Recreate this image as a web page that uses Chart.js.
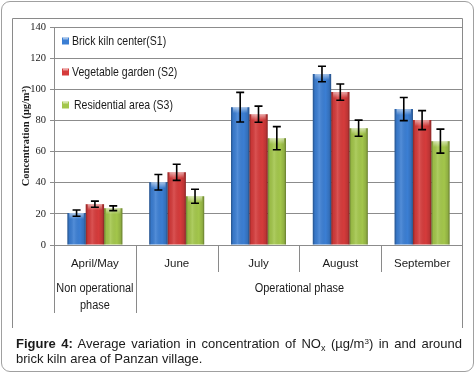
<!DOCTYPE html>
<html>
<head>
<meta charset="utf-8">
<script src="https://cdn.jsdelivr.net/npm/chart.js@4"></script>
<style>
  html, body { margin:0; padding:0; background:#fff; }
  #wrap { position:relative; width:476px; height:375px; overflow:hidden; }
  #frame { position:absolute; left:1px; top:1px; width:471px; height:369px; border:1.5px solid #a0a0a0; border-radius:9px; }
  canvas { position:absolute; left:0; top:0; }
  #cap { position:absolute; left:16px; top:336px; width:446px; font-family:'Liberation Sans', Arial, sans-serif; font-size:13px; line-height:15px; color:#1a1a1a; }
  #cap .l1 { text-align:justify; text-align-last:justify; white-space:nowrap; }
  #cap sub { font-size:9px; line-height:0; vertical-align:-3px; }
  #cap sup { font-size:8px; line-height:0; vertical-align:4px; }
</style>
</head>
<body>
<div id="wrap">
  <div id="frame"></div>
  <canvas id="c" width="476" height="375"></canvas>
  <div id="cap">
    <div class="l1"><b>Figure 4:</b> Average variation in concentration of NO<sub>x</sub> (µg/m<sup>3</sup>) in and around</div>
    <div>brick kiln area of Panzan village.</div>
  </div>
</div>
<script>
const categories = ['April/May', 'June', 'July', 'August', 'September'];
const seriesNames = ['Brick kiln center(S1)', 'Vegetable garden (S2)', 'Residential area (S3)'];
const s1Values = [20.5, 40.3, 88.5, 109.8, 87.3];
const s2Values = [26.2, 46.7, 84.0, 98.2, 80.2];
const s3Values = [23.6, 31.3, 68.6, 75.0, 66.7];
const s1Errors = [2.0, 5.0, 9.5, 5.0, 7.4];
const s2Errors = [2.0, 5.2, 5.2, 5.2, 6.1];
const s3Errors = [1.5, 4.5, 7.4, 5.2, 7.7];
const yTicks = [0, 20, 40, 60, 80, 100, 120, 140];
const groupLabels = [['Non operational', 'phase'], ['Operational phase']];
const groupStart = [0, 1];
const groupEnd = [0, 4];
const yTitle = 'Concentration (µg/m³)';

const colors = ['#3b7ed3', '#d53b3b', '#a3c64b'];
const errors = [s1Errors, s2Errors, s3Errors];

const serifFont = "'Liberation Serif', 'Times New Roman', serif";
const sansFont = "'Liberation Sans', Arial, sans-serif";

function drawNarrowText(ctx, text, x, y, sx) {
  ctx.save();
  ctx.translate(x, y);
  ctx.scale(sx, 1);
  ctx.fillText(text, 0, 0);
  ctx.restore();
}

const decorPlugin = {
  id: 'decor',
  beforeDraw(chart) {
    const ctx = chart.ctx;
    ctx.save();
    ctx.strokeStyle = '#8a8a8a';
    ctx.lineWidth = 1;
    ctx.beginPath();
    ctx.moveTo(12.5, 328); ctx.lineTo(12.5, 18.5); ctx.lineTo(462.5, 18.5); ctx.lineTo(462.5, 328);
    ctx.stroke();
    ctx.restore();
  },
  afterDatasetsDraw(chart) {
    const ctx = chart.ctx;
    const ys = chart.scales.y;
    chart.data.datasets.forEach((ds, di) => {
      const meta = chart.getDatasetMeta(di);
      meta.data.forEach((bar, i) => {
        const p = bar.getProps(['x', 'y', 'base', 'width'], true);
        const l = p.x - p.width / 2;
        ctx.save();
        const g = ctx.createLinearGradient(l, 0, l + p.width, 0);
        g.addColorStop(0, 'rgba(0,0,0,0.35)');
        g.addColorStop(0.12, 'rgba(0,0,0,0.05)');
        g.addColorStop(0.35, 'rgba(255,255,255,0.12)');
        g.addColorStop(0.7, 'rgba(0,0,0,0.0)');
        g.addColorStop(0.9, 'rgba(0,0,0,0.12)');
        g.addColorStop(1, 'rgba(0,0,0,0.38)');
        ctx.fillStyle = g;
        ctx.fillRect(l, p.y, p.width, p.base - p.y);
        const h = Math.min(6, p.base - p.y);
        const g2 = ctx.createLinearGradient(0, p.y, 0, p.y + h);
        g2.addColorStop(0, 'rgba(255,255,255,0.55)');
        g2.addColorStop(1, 'rgba(255,255,255,0)');
        ctx.fillStyle = g2;
        ctx.fillRect(l + 2, p.y, p.width - 4, h);
        ctx.restore();
        // error bar
        const v = ds.data[i], e = errors[di][i];
        const yt = ys.getPixelForValue(v + e), yb = ys.getPixelForValue(v - e);
        ctx.save();
        ctx.strokeStyle = '#000';
        ctx.lineWidth = 1.6;
        ctx.beginPath();
        ctx.moveTo(p.x, yt); ctx.lineTo(p.x, yb);
        ctx.moveTo(p.x - 4, yt); ctx.lineTo(p.x + 4, yt);
        ctx.moveTo(p.x - 4, yb); ctx.lineTo(p.x + 4, yb);
        ctx.stroke();
        ctx.restore();
      });
    });
  },
  afterDraw(chart) {
    const ctx = chart.ctx;
    const xs = chart.scales.x;
    const area = chart.chartArea;
    const half = (xs.getPixelForValue(1) - xs.getPixelForValue(0)) / 2;
    ctx.save();
    ctx.strokeStyle = '#8a8a8a';
    ctx.lineWidth = 1;
    for (let b = 0; b < categories.length; b++) {
      const x = Math.round(xs.getPixelForValue(b) - half) + 0.5;
      const isGroupEdge = groupStart.includes(b);
      ctx.beginPath();
      ctx.moveTo(x, area.bottom);
      ctx.lineTo(x, isGroupEdge ? 313 : 272);
      ctx.stroke();
    }
    // legend
    ctx.font = "13px " + sansFont;
    ctx.textBaseline = 'middle';
    ctx.textAlign = 'left';
    const legY = [41, 72, 105];
    chart.data.datasets.forEach((ds, di) => {
      const yy = legY[di];
      ctx.fillStyle = colors[di];
      ctx.fillRect(62, yy - 3.5, 7, 7);
      ctx.fillStyle = 'rgba(255,255,255,0.5)';
      ctx.fillRect(63, yy - 3.5, 5, 2);
      ctx.fillStyle = '#1a1a1a';
      drawNarrowText(ctx, ds.label, di === 2 ? 74 : 72, yy, 0.81);
    });
    // group labels
    ctx.font = "12px " + sansFont;
    ctx.textAlign = 'center';
    groupLabels.forEach((lines, gi) => {
      const cx = (xs.getPixelForValue(groupStart[gi]) + xs.getPixelForValue(groupEnd[gi])) / 2;
      lines.forEach((t, li) => drawNarrowText(ctx, t, cx, 288.5 + li * 17, 0.91));
    });
    ctx.restore();
  }
};

const ds = [s1Values, s2Values, s3Values].map((vals, i) => ({
  label: seriesNames[i],
  data: vals,
  backgroundColor: colors[i],
  borderWidth: 0,
  categoryPercentage: 0.672,
  barPercentage: 1.0
}));

new Chart(document.getElementById('c'), {
  type: 'bar',
  data: { labels: categories, datasets: ds },
  options: {
    responsive: false,
    animation: false,
    devicePixelRatio: 1,
    layout: { padding: { left: 0, top: 27, right: 13, bottom: 0 } },
    plugins: { legend: { display: false }, tooltip: { enabled: false } },
    scales: {
      x: {
        grid: { display: false, drawTicks: false },
        border: { display: false },
        ticks: { color: '#1a1a1a', font: { family: sansFont, size: 11.5 }, padding: 12, maxRotation: 0 },
        afterFit(s) { s.height = 130; }
      },
      y: {
        min: 0, max: 140,
        afterBuildTicks(s) { s.ticks = yTicks.map(v => ({ value: v })); },
        grid: { color: '#8c8c8c', lineWidth: 1, tickLength: 4 },
        border: { color: '#8c8c8c' },
        ticks: { color: '#1a1a1a', font: { family: serifFont, size: 10.5 }, padding: 4 },
        title: { display: true, text: yTitle, color: '#1a1a1a', font: { family: serifFont, size: 10.5, weight: 'bold' }, padding: { top: 20, bottom: 0 } },
        afterFit(s) { s.width = 54; }
      }
    }
  },
  plugins: [decorPlugin]
});
</script>
</body>
</html>
